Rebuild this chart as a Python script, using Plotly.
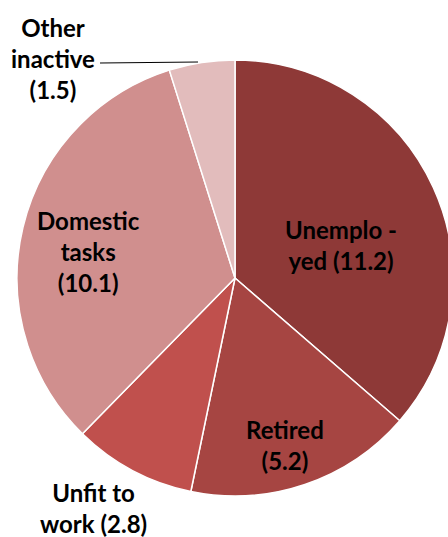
import plotly.graph_objects as go

categories = ["Unemployed", "Retired", "Unfit to work", "Domestic tasks", "Other inactive"]
values = [11.2, 5.2, 2.8, 10.1, 1.5]
colors = ["#8E3937", "#A64542", "#C0504D", "#D08F8E", "#E2BCBC"]
label_texts = ["Unemplo -<br>yed (11.2)", "Retired<br>(5.2)", "Unfit to<br>work (2.8)",
               "Domestic<br>tasks<br>(10.1)", "Other<br>inactive<br>(1.5)"]

W, H = 458, 537
cx, cy, R = 235, 278, 218

fig = go.Figure(go.Pie(
    labels=categories, values=values, sort=False, direction="clockwise", rotation=0,
    marker=dict(colors=colors, line=dict(color="white", width=1.5)),
    textinfo="none", hoverinfo="label+value", showlegend=False,
    domain=dict(x=[(cx - R) / W, (cx + R) / W],
                y=[1 - (cy + R) / H, 1 - (cy - R) / H]),
))

# label anchor points (pixel centres in the page)
label_pos = [(341, 245), (285, 445), (93, 508), (88, 252), (53, 58)]
for txt, (px, py) in zip(label_texts, label_pos):
    fig.add_annotation(x=px / W, y=1 - py / H, xref="paper", yref="paper", text=txt,
                       showarrow=False, xanchor="center", yanchor="middle",
                       font=dict(family="Lato", size=24, color="black", weight="bold"), align="center")

fig.add_shape(type="line", xref="paper", yref="paper",
              x0=100 / W, y0=1 - 63 / H, x1=198 / W, y1=1 - 62 / H,
              line=dict(color="black", width=1.2))

fig.update_layout(width=W, height=H, margin=dict(l=0, r=0, t=0, b=0),
                  paper_bgcolor="white", plot_bgcolor="white")
fig.write_html("out.html", config={"displayModeBar": False},
               post_script="document.body.style.margin='0';document.body.style.overflow='hidden';")
